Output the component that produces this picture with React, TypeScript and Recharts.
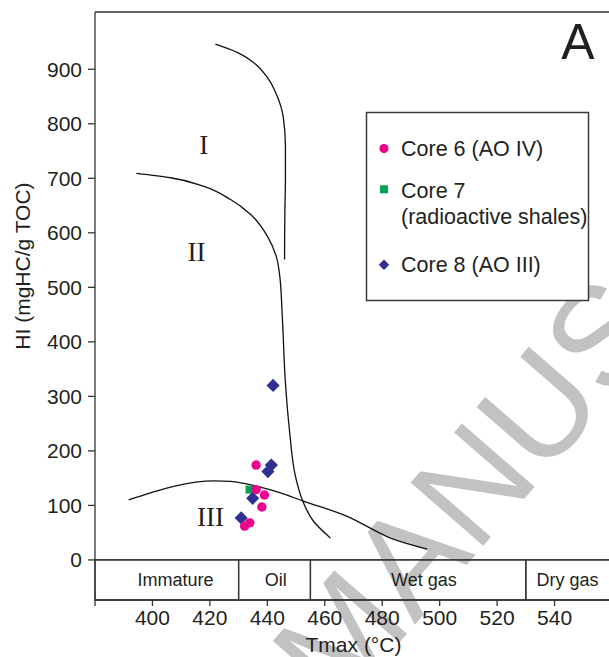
import React from "react";
import {
  ScatterChart,
  Scatter,
  XAxis,
  YAxis,
  ReferenceLine,
  ReferenceArea,
  ReferenceDot,
  Label,
} from "recharts";

// samples (Tmax °C, HI mgHC/g TOC)
const core6 = [
  { tmax: 436.1, hi: 174 },
  { tmax: 436.1, hi: 129 },
  { tmax: 439.0, hi: 119 },
  { tmax: 438.1, hi: 97 },
  { tmax: 433.9, hi: 68 },
  { tmax: 432.1, hi: 62 },
];
const core7 = [{ tmax: 433.8, hi: 129 }];
const core8 = [
  { tmax: 442.0, hi: 320 },
  { tmax: 441.4, hi: 174 },
  { tmax: 440.2, hi: 162 },
  { tmax: 434.9, hi: 113 },
  { tmax: 430.9, hi: 77 },
];

// kerogen type boundaries
const curveI = [
  { tmax: 421.9, hi: 946 },
  { tmax: 429.5, hi: 931 },
  { tmax: 435.3, hi: 912 },
  { tmax: 440.0, hi: 885 },
  { tmax: 443.4, hi: 851 },
  { tmax: 445.5, hi: 814 },
  { tmax: 446.3, hi: 759 },
  { tmax: 446.3, hi: 698 },
  { tmax: 446.1, hi: 637 },
  { tmax: 446.0, hi: 551 },
];
const curveII = [
  { tmax: 394.4, hi: 709 },
  { tmax: 406.3, hi: 701 },
  { tmax: 417.9, hi: 685 },
  { tmax: 427.2, hi: 661 },
  { tmax: 434.1, hi: 634 },
  { tmax: 440.0, hi: 594 },
  { tmax: 443.2, hi: 555 },
  { tmax: 444.3, hi: 522 },
  { tmax: 445.2, hi: 447 },
  { tmax: 446.3, hi: 325 },
  { tmax: 447.8, hi: 233 },
  { tmax: 449.8, hi: 153 },
  { tmax: 452.2, hi: 110 },
  { tmax: 456.2, hi: 70 },
  { tmax: 462.0, hi: 40 },
];
const curveIII = [
  { tmax: 391.7, hi: 110 },
  { tmax: 399.3, hi: 123 },
  { tmax: 407.4, hi: 135 },
  { tmax: 421.4, hi: 145 },
  { tmax: 427.2, hi: 144 },
  { tmax: 436.5, hi: 135 },
  { tmax: 444.6, hi: 123 },
  { tmax: 452.5, hi: 108 },
  { tmax: 467.8, hi: 80 },
  { tmax: 482.9, hi: 40 },
  { tmax: 495.7, hi: 20 },
];

const typeNames = ["I", "II", "III"];
const typeTmax = [417.9, 415.3, 420.2];
const typeHi = [762, 566, 79];

const zoneNames = ["Immature", "Oil", "Wet gas", "Dry gas"];
const zoneBounds = [380, 430, 455, 530, 560];
const zoneLabelTmax = [408, 442.9, 494.5, 544.5];

const xTicks = [380, 400, 420, 440, 460, 480, 500, 520, 540];
const yTicks = [0, 100, 200, 300, 400, 500, 600, 700, 800, 900];

const PINK = "#ec008c";
const GREEN = "#00a651";
const BLUE = "#2e3192";
const INK = "#231f20";
const SANS = "'Liberation Sans', Arial, sans-serif";
const SERIF = "'Liberation Serif', 'Times New Roman', serif";

const Y_MIN = -73.5;
const Y_MAX = 1005;

const circleShape = (p: any) => <circle cx={p.cx} cy={p.cy} r={4.7} fill={PINK} />;
const squareShape = (p: any) => (
  <rect x={p.cx - 4} y={p.cy - 4} width={8} height={8} fill={GREEN} />
);
const diamondShape = (p: any) => {
  const s = 6.6;
  return (
    <polygon
      points={`${p.cx},${p.cy - s} ${p.cx + s},${p.cy} ${p.cx},${p.cy + s} ${p.cx - s},${p.cy}`}
      fill={BLUE}
    />
  );
};
const noShape = () => <g />;

export default function App() {
  const lineStyle = { stroke: "#111", strokeWidth: 1.3 };
  return (
    <div style={{ position: "absolute", left: 0, top: 0, width: 609, height: 657, overflow: "hidden", background: "#fff" }}>
      {/* watermark */}
      <svg width={609} height={657} style={{ position: "absolute", left: 0, top: 0 }}>
        <text
          transform="translate(300,680) rotate(-49)"
          dy="0.36em"
          fontFamily={SANS}
          fontSize={140}
          fill="#c2c2c2"
        >
          MANUSCRIPT
        </text>
      </svg>

      <div style={{ position: "absolute", left: 0, top: 0 }}>
        <ScatterChart width={640} height={657} margin={{ top: 12, right: 28, bottom: 0, left: 0 }}>
          <XAxis
            type="number"
            dataKey="tmax"
            domain={[380, 560]}
            ticks={xTicks}
            allowDataOverflow
            height={57}
            tickSize={6}
            tickMargin={4}
            tickFormatter={(v: number) => (v === 380 ? "" : String(v))}
            tick={{ fill: INK, fontSize: 21, fontFamily: SANS }}
            axisLine={{ stroke: "#333", strokeWidth: 1.3 }}
            tickLine={{ stroke: "#333", strokeWidth: 1.3 }}
          >
            <Label
              value="Tmax (°C)"
              position="insideBottom"
              offset={5}
              style={{ fill: INK, fontSize: 21, fontFamily: SANS }}
            />
          </XAxis>
          <YAxis
            type="number"
            dataKey="hi"
            domain={[Y_MIN, Y_MAX]}
            ticks={yTicks}
            allowDataOverflow
            width={95}
            tickSize={7}
            tickMargin={6}
            tick={{ fill: INK, fontSize: 21, fontFamily: SANS }}
            axisLine={{ stroke: "#333", strokeWidth: 1.3 }}
            tickLine={{ stroke: "#333", strokeWidth: 1.3 }}
          >
            <Label
              content={() => (
                <text
                  transform="translate(30,266) rotate(-90)"
                  textAnchor="middle"
                  fill={INK}
                  fontSize={21}
                  fontFamily={SANS}
                >
                  HI (mgHC/g TOC)
                </text>
              )}
            />
          </YAxis>

          <ReferenceLine y={Y_MAX} stroke="#333" strokeWidth={1.5} />
          <ReferenceLine y={0} stroke="#333" strokeWidth={1.3} />
          {zoneNames.map((z, i) => (
            <ReferenceArea
              key={z}
              x1={zoneBounds[i]}
              x2={zoneBounds[i + 1]}
              y1={Y_MIN}
              y2={0}
              fill="none"
              fillOpacity={0}
              stroke="#333"
              strokeWidth={1.3}
            />
          ))}
          {zoneNames.map((z, i) => (
            <ReferenceDot
              key={"l" + z}
              x={zoneLabelTmax[i]}
              y={-36.5}
              r={0}
              stroke="none"
              fill="none"
              label={{ value: z, position: "center", fill: INK, fontSize: 18, fontFamily: SANS }}
            />
          ))}
          {typeNames.map((t, i) => (
            <ReferenceDot
              key={"t" + t}
              x={typeTmax[i]}
              y={typeHi[i]}
              r={0}
              stroke="none"
              fill="none"
              label={{ value: t, position: "center", fill: INK, fontSize: 27, fontFamily: SERIF }}
            />
          ))}

          <Scatter data={curveI} line={lineStyle} lineType="joint" lineJointType="monotoneY" shape={noShape} isAnimationActive={false} />
          <Scatter data={curveII} line={lineStyle} lineType="joint" lineJointType="monotoneY" shape={noShape} isAnimationActive={false} />
          <Scatter data={curveIII} line={lineStyle} lineType="joint" lineJointType="monotoneX" shape={noShape} isAnimationActive={false} />

          <Scatter data={core7} shape={squareShape} isAnimationActive={false} />
          <Scatter data={core8} shape={diamondShape} isAnimationActive={false} />
          <Scatter data={core6} shape={circleShape} isAnimationActive={false} />
        </ScatterChart>
      </div>

      {/* title and legend */}
      <svg width={609} height={657} style={{ position: "absolute", left: 0, top: 0, pointerEvents: "none" }}>
        <text x={578} y={59} textAnchor="middle" fontFamily={SANS} fontSize={50} fill={INK}>
          A
        </text>
        <rect x={366.5} y={112.5} width={222} height={188} fill="#fff" stroke="#3a3a3a" strokeWidth={1.5} />
        <g fontFamily={SANS} fontSize={21.5} fill={INK}>
          <circle cx={384} cy={148.5} r={4.5} fill={PINK} />
          <text x={401} y={155.5}>Core 6 (AO IV)</text>
          <rect x={380} y={185.3} width={8} height={8} fill={GREEN} />
          <text x={401} y={198}>Core 7</text>
          <text x={401} y={224}>(radioactive shales)</text>
          <polygon points="384,259.5 389.2,264.7 384,269.9 378.8,264.7" fill={BLUE} />
          <text x={401} y={271.5}>Core 8 (AO III)</text>
        </g>
      </svg>
    </div>
  );
}
